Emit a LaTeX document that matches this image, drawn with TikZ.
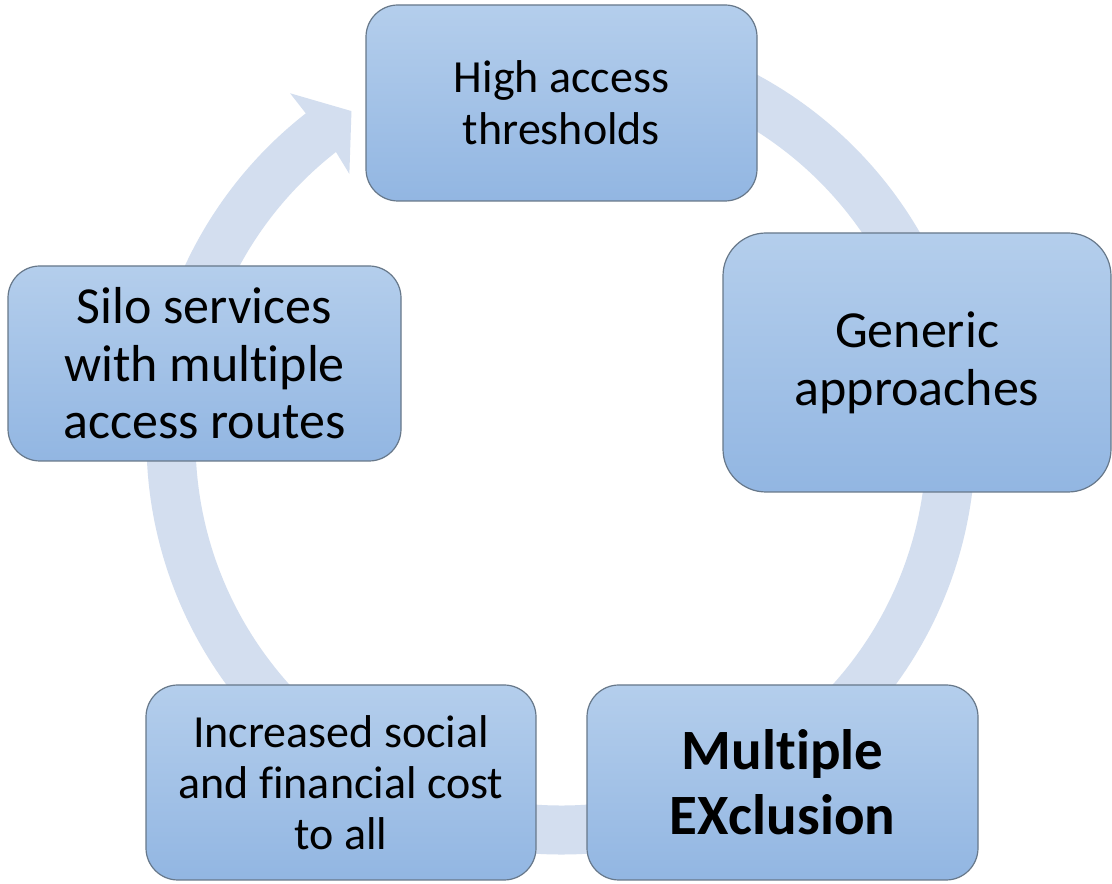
\documentclass[tikz,border=0pt]{standalone}
\usepackage{fontspec}
\setmainfont{Carlito}[Ligatures=NoCommon]
\definecolor{ringc}{HTML}{D3DEEF}
\definecolor{boxtop}{HTML}{B4CEEC}
\definecolor{boxbot}{HTML}{92B6E2}
\definecolor{boxline}{HTML}{67788A}
\tikzset{
  box/.style={draw=boxline, line width=1.2pt, top color=boxtop, bottom color=boxbot,
    align=center, inner sep=0pt, text=black}
}
\begin{document}
\begin{tikzpicture}[x=1pt,y=1pt]
\useasboundingbox (0,0) rectangle (1112,884);
\fill[white] (0,0) rectangle (1112,884);
% circular arrow ring
\begin{scope}[shift={(561,444)}]
\fill[ringc] (85:414.5pt) arc[start angle=85,end angle=-232,radius=414.5pt]
  -- (128:440pt) -- (122.5:390pt) -- (128.5:340pt) -- (128:365.5pt)
  arc[start angle=-232,end angle=85,radius=365.5pt] -- cycle;
\end{scope}
% boxes
\node[box, minimum width=391pt, minimum height=196pt, rounded corners=32pt,
  font=\fontsize{46}{52}\selectfont] (top) at (561.5,781) {High access\\thresholds};
\node[box, minimum width=388pt, minimum height=259pt, rounded corners=43pt,
  font=\fontsize{52}{58}\selectfont] (right) at (917,521.5) {Generic\\approaches};
\node[box, minimum width=391pt, minimum height=195pt, rounded corners=32pt,
  font=\fontsize{57}{65}\selectfont\bfseries] (br) at (782.5,101.5) {Multiple\\EXclusion};
\node[box, minimum width=390pt, minimum height=195pt, rounded corners=32pt,
  font=\fontsize{46}{51}\selectfont] (bl) at (341,101.5) {Increased social\\and financial cost\\to all};
\node[box, minimum width=393pt, minimum height=195pt, rounded corners=32pt,
  font=\fontsize{52}{57.5}\selectfont] (left) at (204.5,520.5) {Silo services\\with multiple\\access routes};
\end{tikzpicture}
\end{document}
